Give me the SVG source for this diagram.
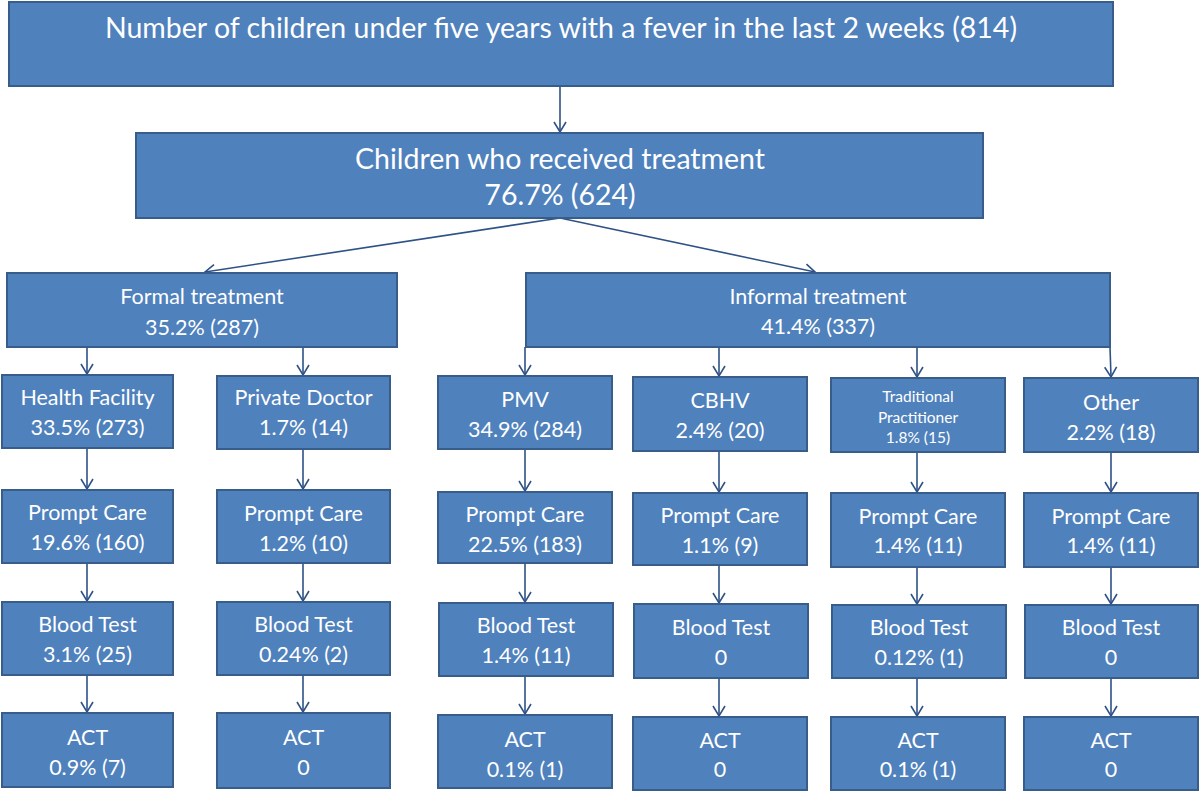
<svg xmlns="http://www.w3.org/2000/svg" width="1200" height="793" viewBox="0 0 1200 793">
<style>
.box{fill:#4F81BD;stroke:#385D8A;stroke-width:2}
text{fill:#FFFFFF;font-family:Lato,"Open Sans","Liberation Sans",sans-serif;text-anchor:middle}
.t1{font-size:28.5px}
.t2{font-size:21.5px}
.t3{font-size:15.5px}
.conn line{stroke:#2E5286;stroke-width:1.6;fill:none;marker-end:url(#arr)}
</style>
<defs>
<marker id="arr" viewBox="-11 -7 13 14" refX="0" refY="0" markerWidth="13" markerHeight="14" markerUnits="userSpaceOnUse" orient="auto">
<path d="M-10,-6 L0,0 L-10,6" fill="none" stroke="#2E5286" stroke-width="1.6"/>
</marker>
</defs>
<rect width="1200" height="793" fill="#FFFFFF"/>
<g id="connectors" class="conn">
<line x1="560" y1="86" x2="560" y2="132"/>
<line x1="560" y1="218" x2="205" y2="272"/>
<line x1="560" y1="218" x2="815" y2="272"/>
<line x1="87" y1="347" x2="87" y2="374"/>
<line x1="303" y1="347" x2="303" y2="375"/>
<line x1="525" y1="347" x2="525" y2="375"/>
<line x1="719" y1="347" x2="719" y2="376"/>
<line x1="917" y1="347" x2="917" y2="377"/>
<line x1="1110" y1="347" x2="1111" y2="377"/>
<line x1="87" y1="448" x2="87" y2="489"/>
<line x1="87" y1="563" x2="87" y2="601"/>
<line x1="87" y1="675" x2="87" y2="712"/>
<line x1="303" y1="449" x2="303" y2="489"/>
<line x1="303" y1="560" x2="303" y2="601"/>
<line x1="303" y1="675" x2="303" y2="712"/>
<line x1="525" y1="449" x2="525" y2="491"/>
<line x1="525" y1="558" x2="525" y2="602"/>
<line x1="525" y1="676" x2="525" y2="714"/>
<line x1="719" y1="451" x2="719" y2="492"/>
<line x1="719" y1="560" x2="719" y2="603"/>
<line x1="719" y1="678" x2="719" y2="716"/>
<line x1="917" y1="452" x2="917" y2="492"/>
<line x1="917" y1="560" x2="917" y2="604"/>
<line x1="917" y1="678" x2="917" y2="716"/>
<line x1="1111" y1="452" x2="1111" y2="492"/>
<line x1="1111" y1="560" x2="1111" y2="604"/>
<line x1="1111" y1="678" x2="1111" y2="716"/>
</g>
<g id="n-total"><rect class="box" x="9" y="2" width="1104" height="84"/><text class="t1" x="561" y="38">Number of children under five years with a fever in the last 2 weeks (814)</text></g>
<g id="n-treated"><rect class="box" x="136" y="133" width="847" height="85"/><text class="t1" x="560" y="169">Children who received treatment</text><text class="t1" x="560" y="205">76.7% (624)</text></g>
<g id="n-formal"><rect class="box" x="7" y="273" width="390" height="74"/><text class="t2" x="202" y="304">Formal treatment</text><text class="t2" x="202" y="335">35.2% (287)</text></g>
<g id="n-informal"><rect class="box" x="526" y="273" width="584" height="74"/><text class="t2" x="818" y="304">Informal treatment</text><text class="t2" x="818" y="334">41.4% (337)</text></g>

<g id="n-hf"><rect class="box" x="2" y="375" width="171" height="73"/><text class="t2" x="87.5" y="405">Health Facility</text><text class="t2" x="87.5" y="435">33.5% (273)</text></g>
<g id="n-pd"><rect class="box" x="217" y="376" width="173" height="73"/><text class="t2" x="303.5" y="405">Private Doctor</text><text class="t2" x="303.5" y="435">1.7% (14)</text></g>
<g id="n-pmv"><rect class="box" x="438" y="376" width="174" height="73"/><text class="t2" x="525" y="407">PMV</text><text class="t2" x="525" y="437">34.9% (284)</text></g>
<g id="n-cbhv"><rect class="box" x="633" y="377" width="174" height="74"/><text class="t2" x="720" y="408">CBHV</text><text class="t2" x="720" y="438">2.4% (20)</text></g>
<g id="n-trad"><rect class="box" x="831" y="378" width="174" height="74"/><text class="t3" x="918" y="402">Traditional</text><text class="t3" x="918" y="423">Practitioner</text><text class="t3" x="918" y="443">1.8% (15)</text></g>
<g id="n-other"><rect class="box" x="1024" y="378" width="174" height="74"/><text class="t2" x="1111" y="410">Other</text><text class="t2" x="1111" y="440">2.2% (18)</text></g>

<g id="n-hf-pc"><rect class="box" x="2" y="490" width="171" height="73"/><text class="t2" x="87.5" y="520">Prompt Care</text><text class="t2" x="87.5" y="550">19.6% (160)</text></g>
<g id="n-pd-pc"><rect class="box" x="217" y="490" width="173" height="73"/><text class="t2" x="303.5" y="521">Prompt Care</text><text class="t2" x="303.5" y="551">1.2% (10)</text></g>
<g id="n-pmv-pc"><rect class="box" x="438" y="492" width="174" height="71"/><text class="t2" x="525" y="522">Prompt Care</text><text class="t2" x="525" y="552">22.5% (183)</text></g>
<g id="n-cbhv-pc"><rect class="box" x="633" y="493" width="174" height="72"/><text class="t2" x="720" y="523">Prompt Care</text><text class="t2" x="720" y="553">1.1% (9)</text></g>
<g id="n-trad-pc"><rect class="box" x="831" y="493" width="174" height="74"/><text class="t2" x="918" y="524">Prompt Care</text><text class="t2" x="918" y="553">1.4% (11)</text></g>
<g id="n-other-pc"><rect class="box" x="1024" y="493" width="174" height="74"/><text class="t2" x="1111" y="524">Prompt Care</text><text class="t2" x="1111" y="553">1.4% (11)</text></g>

<g id="n-hf-bt"><rect class="box" x="2" y="602" width="171" height="73"/><text class="t2" x="87.5" y="632">Blood Test</text><text class="t2" x="87.5" y="662">3.1% (25)</text></g>
<g id="n-pd-bt"><rect class="box" x="217" y="602" width="173" height="73"/><text class="t2" x="303.5" y="632">Blood Test</text><text class="t2" x="303.5" y="662">0.24% (2)</text></g>
<g id="n-pmv-bt"><rect class="box" x="439" y="603" width="174" height="73"/><text class="t2" x="526" y="633">Blood Test</text><text class="t2" x="526" y="663">1.4% (11)</text></g>
<g id="n-cbhv-bt"><rect class="box" x="634" y="604" width="174" height="74"/><text class="t2" x="721" y="635">Blood Test</text><text class="t2" x="721" y="665">0</text></g>
<g id="n-trad-bt"><rect class="box" x="832" y="605" width="174" height="73"/><text class="t2" x="919" y="635">Blood Test</text><text class="t2" x="919" y="665">0.12% (1)</text></g>
<g id="n-other-bt"><rect class="box" x="1025" y="605" width="173" height="73"/><text class="t2" x="1111" y="635">Blood Test</text><text class="t2" x="1111" y="665">0</text></g>

<g id="n-hf-act"><rect class="box" x="2" y="713" width="171" height="74"/><text class="t2" x="87.5" y="745">ACT</text><text class="t2" x="87.5" y="775">0.9% (7)</text></g>
<g id="n-pd-act"><rect class="box" x="217" y="713" width="173" height="75"/><text class="t2" x="303.5" y="745">ACT</text><text class="t2" x="303.5" y="775">0</text></g>
<g id="n-pmv-act"><rect class="box" x="438" y="715" width="174" height="73"/><text class="t2" x="525" y="747">ACT</text><text class="t2" x="525" y="777">0.1% (1)</text></g>
<g id="n-cbhv-act"><rect class="box" x="633" y="717" width="174" height="73"/><text class="t2" x="720" y="748">ACT</text><text class="t2" x="720" y="777">0</text></g>
<g id="n-trad-act"><rect class="box" x="831" y="717" width="174" height="73"/><text class="t2" x="918" y="748">ACT</text><text class="t2" x="918" y="777">0.1% (1)</text></g>
<g id="n-other-act"><rect class="box" x="1024" y="717" width="174" height="73"/><text class="t2" x="1111" y="748">ACT</text><text class="t2" x="1111" y="777">0</text></g>
</svg>
